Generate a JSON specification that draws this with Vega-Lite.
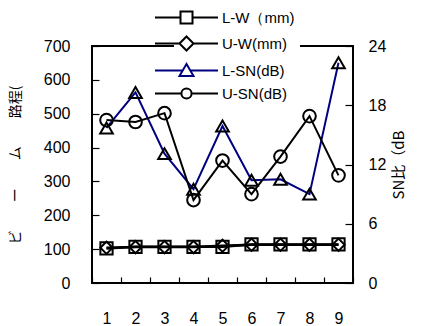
{
  "$schema": "https://vega.github.io/schema/vega-lite/v6.json",
  "width": 261,
  "height": 237,
  "autosize": {"type": "none"},
  "padding": {"left": 92, "top": 46, "right": 76, "bottom": 43},
  "background": "white",
  "config": {
    "view": {"stroke": "black", "strokeWidth": 2},
    "font": "Liberation Sans",
    "axis": {"labelFont": "Liberation Sans", "labelFontSize": 16, "labelColor": "black", "grid": false, "domain": false, "tickColor": "black", "tickWidth": 1.2, "titleFont": "Noto Sans CJK JP", "titleFontWeight": "normal", "titleColor": "black"}
  },
  "data": {"values": [
    {"x": 1, "series": "L-W（mm)", "axis": "W", "v": 102},
    {"x": 2, "series": "L-W（mm)", "axis": "W", "v": 107},
    {"x": 3, "series": "L-W（mm)", "axis": "W", "v": 107},
    {"x": 4, "series": "L-W（mm)", "axis": "W", "v": 107},
    {"x": 5, "series": "L-W（mm)", "axis": "W", "v": 107},
    {"x": 6, "series": "L-W（mm)", "axis": "W", "v": 114},
    {"x": 7, "series": "L-W（mm)", "axis": "W", "v": 114},
    {"x": 8, "series": "L-W（mm)", "axis": "W", "v": 114},
    {"x": 9, "series": "L-W（mm)", "axis": "W", "v": 114},
    {"x": 1, "series": "U-W(mm)", "axis": "W", "v": 104},
    {"x": 2, "series": "U-W(mm)", "axis": "W", "v": 106},
    {"x": 3, "series": "U-W(mm)", "axis": "W", "v": 106},
    {"x": 4, "series": "U-W(mm)", "axis": "W", "v": 106},
    {"x": 5, "series": "U-W(mm)", "axis": "W", "v": 110},
    {"x": 6, "series": "U-W(mm)", "axis": "W", "v": 113},
    {"x": 7, "series": "U-W(mm)", "axis": "W", "v": 113},
    {"x": 8, "series": "U-W(mm)", "axis": "W", "v": 113},
    {"x": 9, "series": "U-W(mm)", "axis": "W", "v": 113},
    {"x": 1, "series": "L-SN(dB)", "axis": "SN", "v": 15.7},
    {"x": 2, "series": "L-SN(dB)", "axis": "SN", "v": 19.3},
    {"x": 3, "series": "L-SN(dB)", "axis": "SN", "v": 13.1},
    {"x": 4, "series": "L-SN(dB)", "axis": "SN", "v": 9.5},
    {"x": 5, "series": "L-SN(dB)", "axis": "SN", "v": 15.9},
    {"x": 6, "series": "L-SN(dB)", "axis": "SN", "v": 10.4},
    {"x": 7, "series": "L-SN(dB)", "axis": "SN", "v": 10.5},
    {"x": 8, "series": "L-SN(dB)", "axis": "SN", "v": 9.0},
    {"x": 9, "series": "L-SN(dB)", "axis": "SN", "v": 22.3},
    {"x": 1, "series": "U-SN(dB)", "axis": "SN", "v": 16.5},
    {"x": 2, "series": "U-SN(dB)", "axis": "SN", "v": 16.3},
    {"x": 3, "series": "U-SN(dB)", "axis": "SN", "v": 17.2},
    {"x": 4, "series": "U-SN(dB)", "axis": "SN", "v": 8.4},
    {"x": 5, "series": "U-SN(dB)", "axis": "SN", "v": 12.4},
    {"x": 6, "series": "U-SN(dB)", "axis": "SN", "v": 9.0},
    {"x": 7, "series": "U-SN(dB)", "axis": "SN", "v": 12.8},
    {"x": 8, "series": "U-SN(dB)", "axis": "SN", "v": 16.9},
    {"x": 9, "series": "U-SN(dB)", "axis": "SN", "v": 10.9}
  ]},
  "encoding": {
    "x": {"field": "x", "type": "ordinal", "scale": {"type": "band", "paddingInner": 0, "paddingOuter": 0}, "axis": {"title": null, "labelAngle": 0, "tickBand": "extent", "offset": -6, "tickSize": 6, "labelPadding": 27}}
  },
  "layer": [
    {
      "transform": [{"filter": "datum.axis == 'W'"}],
      "encoding": {
        "y": {"field": "v", "type": "quantitative", "scale": {"domain": [0, 700]}, "axis": {"orient": "left", "values": [0, 100, 200, 300, 400, 500, 600, 700], "offset": -7, "tickSize": 7, "labelPadding": 22, "title": "ビ　　ー　　ム　　路程(", "titleFontSize": 14, "titlePadding": 21}}
      },
      "layer": [
        {"mark": {"type": "line", "color": "black", "strokeWidth": 2.5}, "encoding": {"detail": {"field": "series", "type": "nominal"}}},
        {"mark": {"type": "point", "filled": false, "color": "black", "strokeWidth": 2, "size": 150, "opacity": 1},
         "encoding": {"shape": {"field": "series", "type": "nominal", "scale": {"domain": ["L-W（mm)", "U-W(mm)"], "range": ["square", "diamond"]}, "legend": null}}}
      ]
    },
    {
      "transform": [{"filter": "datum.axis == 'SN'"}],
      "encoding": {
        "y": {"field": "v", "type": "quantitative", "scale": {"domain": [0, 24]}, "axis": {"orient": "right", "values": [0, 6, 12, 18, 24], "offset": -8, "tickSize": 8, "labelPadding": 15, "title": "SN比（dB", "titleFontSize": 15, "titleAngle": 270, "titlePadding": 21}}
      },
      "layer": [
        {"mark": {"type": "line", "strokeWidth": 2}, "encoding": {"color": {"field": "series", "type": "nominal", "scale": {"domain": ["L-SN(dB)", "U-SN(dB)"], "range": ["#000080", "black"]}, "legend": null}}},
        {"mark": {"type": "point", "filled": false, "color": "black", "strokeWidth": 2, "size": 160, "opacity": 1},
         "encoding": {"shape": {"field": "series", "type": "nominal", "scale": {"domain": ["L-SN(dB)", "U-SN(dB)"], "range": ["triangle-up", "circle"]}, "legend": null}}}
      ]
    },
    {
      "mark": {"type": "point", "filled": false, "opacity": 0},
      "encoding": {
        "shape": {"field": "series", "type": "nominal",
          "scale": {"domain": ["L-W（mm)", "U-W(mm)", "L-SN(dB)", "U-SN(dB)"],
                    "range": ["M-5.25,0H-1M1,0H5.25M-1,-1H1V1H-1Z", "M-5.25,0H-1.17M1.17,0H5.25M-1.17,0L0,-1.17L1.17,0L0,1.17Z", "M-5.25,0H-0.6M0.6,0H5.25M0,-1.1L1.17,0.9L-1.17,0.9Z", "M-5.25,0H-0.85M0.85,0H5.25M-0.85,0A0.85,0.85,0,1,0,0.85,0A0.85,0.85,0,1,0,-0.85,0Z"]},
          "legend": {"orient": "none", "legendX": 82, "legendY": -41, "title": null, "symbolSize": 144, "symbolStrokeWidth": 2, "symbolOpacity": 1, "labelFontSize": 15, "labelFont": "Liberation Sans", "labelColor": "black", "labelOffset": 28, "rowPadding": 4, "padding": 5, "fillColor": "white"}},
        "color": {"field": "series", "type": "nominal",
          "scale": {"domain": ["L-W（mm)", "U-W(mm)", "L-SN(dB)", "U-SN(dB)"], "range": ["black", "black", "#000080", "black"]},
          "legend": {"orient": "none", "legendX": 82, "legendY": -41, "title": null, "symbolSize": 144, "symbolStrokeWidth": 2, "symbolOpacity": 1, "labelFontSize": 15, "labelFont": "Liberation Sans", "labelColor": "black", "labelOffset": 28, "rowPadding": 4, "padding": 5, "fillColor": "white"}}
      }
    }
  ],
  "resolve": {"scale": {"y": "independent", "shape": "independent", "color": "independent"}}
}
